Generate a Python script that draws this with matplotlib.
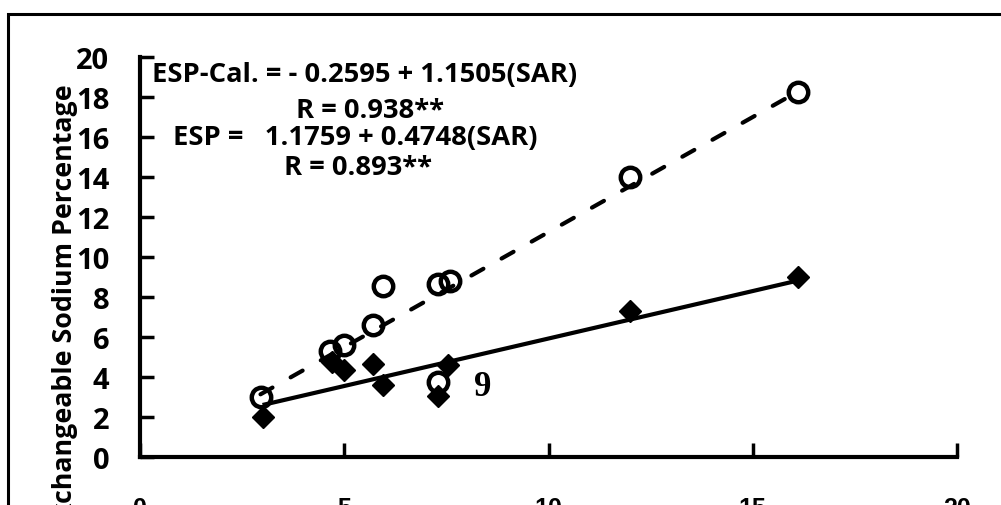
import matplotlib
matplotlib.use("Agg")
import matplotlib.pyplot as plt
import numpy as np
from matplotlib.patches import Rectangle

# SAR vs ESP (measured) and ESP-Cal. (calculated)
sar_esp = [3.0, 4.7, 5.0, 5.7, 5.95, 7.3, 7.55, 12.0, 16.1]
esp = [2.0, 4.75, 4.35, 4.65, 3.6, 3.05, 4.6, 7.3, 9.0]
sar_cal = [2.95, 4.65, 5.0, 5.7, 5.95, 7.3, 7.6, 7.3, 12.0, 16.1]
esp_cal = [3.0, 5.3, 5.6, 6.6, 8.55, 8.65, 8.8, 3.75, 14.0, 18.25]

# regression coefficients (intercept, slope)
fit_esp = (1.1759, 0.4748)
fit_cal = (-0.2595, 1.1505)

eq_cal = "ESP-Cal. = - 0.2595 + 1.1505(SAR)"
r_cal = "R = 0.938**"
eq_esp = "ESP =   1.1759 + 0.4748(SAR)"
r_esp = "R = 0.893**"

xticks = [0, 5, 10, 15, 20]
yticks = list(range(0, 21, 2))

FONT = "Open Sans"

W, H = 1001, 506
fig = plt.figure(figsize=(W / 100, H / 100), dpi=100)
ax = fig.add_axes([140 / W, 1 - 458 / H, (957 - 140) / W, (458 - 58) / H])

# outer frame (chart area border), partly outside the picture
fig.patches.append(Rectangle((8 / W, -0.5), 1.5, 0.5 + 1 - 15 / H, transform=fig.transFigure,
                             fill=False, lw=2.2, ec="black"))

xs = np.array([min(sar_esp), max(sar_esp)])
ax.plot(xs, fit_esp[0] + fit_esp[1] * xs, color="black", lw=3, solid_capstyle="butt", zorder=2)
xc = np.array([min(sar_cal), max(sar_cal)])
ax.plot(xc, fit_cal[0] + fit_cal[1] * xc, color="black", lw=3,
        linestyle=(0, (3.3, 5.0)), dash_capstyle="round", zorder=2)

ax.plot(sar_esp, esp, linestyle="none", marker="D", ms=11.5, color="black", zorder=3)
ax.plot(sar_cal, esp_cal, linestyle="none", marker="o", ms=14, mfc="none",
        mec="black", mew=3.2, zorder=4)

ax.set_xlim(0, 20)
ax.set_ylim(0, 20)
ax.set_xticks(xticks)
ax.set_yticks(yticks)
for s in ("top", "right"):
    ax.spines[s].set_visible(False)
for s in ("left", "bottom"):
    ax.spines[s].set_linewidth(3)
ax.tick_params(axis="both", direction="in", length=10, width=2.5)
ax.tick_params(axis="y", pad=22)
ax.tick_params(axis="x", pad=28)
for t in ax.get_yticklabels():
    t.set_fontfamily(FONT)
    t.set_fontweight("bold")
    t.set_fontsize(21)
for t in ax.get_xticklabels():
    t.set_fontfamily("Liberation Sans")
    t.set_fontweight("bold")
    t.set_fontsize(18)

fig.text(65 / W, 1 - 84 / H, "Exchangeable Sodium Percentage", rotation=90, ha="center", va="top",
         family=FONT, weight="bold", fontsize=19.3)

tk = dict(family=FONT, weight="bold", fontsize=19.7, transform=fig.transFigure, va="center")
fig.text(152 / W, 1 - 75 / H, eq_cal, ha="left", **tk)
fig.text(370 / W, 1 - 111 / H, r_cal, ha="center", **tk)
fig.text(173 / W, 1 - 138 / H, eq_esp, ha="left", **tk)
fig.text(358 / W, 1 - 168 / H, r_esp, ha="center", **tk)

ax.text(8.4, 3.5, "9", family="Liberation Serif", weight="bold", fontsize=25, ha="center", va="center")

fig.savefig("out.png", dpi=100)
